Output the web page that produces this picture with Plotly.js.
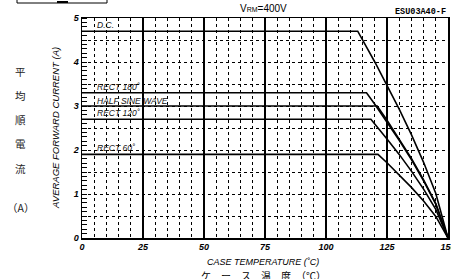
<!DOCTYPE html>
<html>
<head>
<meta charset="utf-8">
<script src="https://cdn.plot.ly/plotly-3.0.1.min.js"></script>
<style>html,body{margin:0;padding:0;background:#fff;}#chart{width:451px;height:279px;}</style>
</head>
<body>
<div id="chart"></div>
<script>
// ---- data ----
const seriesNames = ['D.C.', 'RECT 180˚', 'HALF SINE WAVE', 'RECT 120˚', 'RECT 60˚'];
const tempDC      = [0, 113, 120, 125, 130, 135, 140, 145, 150];
const currDC      = [4.7, 4.7, 4.0, 3.48, 2.93, 2.35, 1.72, 1.01, 0];
const tempR180    = [0, 116.6, 120, 125, 130, 135, 140, 145, 150];
const currR180    = [3.3, 3.3, 3.04, 2.64, 2.22, 1.78, 1.30, 0.77, 0];
const tempHalf    = [0, 121, 125, 130, 135, 140, 145, 150];
const currHalf    = [3.0, 3.0, 2.68, 2.25, 1.81, 1.32, 0.78, 0];
const tempR120    = [0, 118.4, 125, 130, 135, 140, 145, 150];
const currR120    = [2.7, 2.7, 2.25, 1.90, 1.52, 1.11, 0.65, 0];
const tempR60     = [0, 121.3, 125, 130, 135, 140, 145, 150];
const currR60     = [1.9, 1.9, 1.71, 1.44, 1.15, 0.84, 0.49, 0];
const labelY      = [4.83, 3.44, 3.11, 2.84, 2.04];
const yTickVals   = [0, 0.5, 1, 1.5, 2, 2.5, 3, 3.5, 4, 4.5, 5];
const yTickText   = ['0', '', '1', '', '2', '', '3', '', '4', '', '5'];
const yTitleJa    = ['平', '均', '順', '電', '流', '（A）'];
const xTitleJa    = 'ケ　ー　ス　温　度　（℃）';

const xs = [tempDC, tempR180, tempHalf, tempR120, tempR60];
const ys = [currDC, currR180, currHalf, currR120, currR60];

const traces = xs.map((x, i) => ({
  x: x, y: ys[i], type: 'scatter', mode: 'lines', name: seriesNames[i],
  line: {color: '#000', width: 1.6}, hoverinfo: 'skip'
}));
// invisible trace that carries the second x axis (major solid grid)
traces.push({x: [0, 150], y: [0, 0], xaxis: 'x2', yaxis: 'y', type: 'scatter', mode: 'lines',
  line: {color: 'rgba(0,0,0,0)', width: 0}, hoverinfo: 'skip', showlegend: false});

const L = 82, W = 366, T = 18, H = 220, B0 = T + H;
const px2x = p => (p - L) / W;
const py2y = p => (B0 - p) / H;

const tickFont = {family: 'Liberation Sans, Arial, sans-serif', size: 9, color: '#000', weight: 'bold', style: 'italic'};
const lblFont = {family: 'Liberation Sans, Arial, sans-serif', size: 8.5, color: '#111', style: 'italic'};

const annotations = seriesNames.map((n, i) => ({
  x: 5.5, y: labelY[i], xref: 'x', yref: 'y', text: n, showarrow: false,
  xanchor: 'left', yanchor: 'middle', font: lblFont
}));

annotations.push({
  xref: 'paper', yref: 'paper', x: px2x(448), y: py2y(12), xanchor: 'right', yanchor: 'middle',
  text: 'ESU03A40-F', showarrow: false,
  font: {family: 'Liberation Mono, DejaVu Sans Mono, monospace', size: 8.5, color: '#000', weight: 'bold'}
});
annotations.push({
  xref: 'paper', yref: 'paper', x: px2x(263), y: py2y(9), xanchor: 'center', yanchor: 'middle',
  text: 'V<span style="font-size:7px">RM</span>=400V', showarrow: false,
  font: {family: 'Liberation Sans, Arial, sans-serif', size: 10, color: '#000'}
});
annotations.push({
  xref: 'paper', yref: 'paper', x: px2x(263), y: py2y(262), xanchor: 'center', yanchor: 'middle',
  text: 'CASE TEMPERATURE (˚C)', showarrow: false,
  font: {family: 'Liberation Sans, Arial, sans-serif', size: 9, color: '#000', style: 'italic'}
});
annotations.push({
  xref: 'paper', yref: 'paper', x: px2x(263), y: py2y(266), xanchor: 'center', yanchor: 'top',
  text: xTitleJa, showarrow: false,
  font: {family: 'Noto Sans CJK JP, sans-serif', size: 10, color: '#000'}
});
annotations.push({
  xref: 'paper', yref: 'paper', x: px2x(55), y: py2y(128), xanchor: 'center', yanchor: 'middle',
  text: 'AVERAGE FORWARD CURRENT (A)', showarrow: false, textangle: -90,
  font: {family: 'Liberation Sans, Arial, sans-serif', size: 9.5, color: '#000', style: 'italic'}
});
const jaYpx = [71, 95, 119, 143, 168, 207];
yTitleJa.forEach((c, i) => {
  annotations.push({
    xref: 'paper', yref: 'paper', x: px2x(20), y: py2y(jaYpx[i]),
    xanchor: 'center', yanchor: 'middle', text: c, showarrow: false,
    font: {family: 'Noto Sans CJK JP, sans-serif', size: 10.5, color: '#222'}
  });
});

const layout = {
  width: 451, height: 279,
  margin: {l: L, r: 451 - L - W, t: T, b: 279 - B0, pad: 0},
  paper_bgcolor: '#fff', plot_bgcolor: '#fff',
  showlegend: false,
  xaxis: {
    range: [0, 150], tickmode: 'linear', tick0: 0, dtick: 25, ticks: '', showline: true, mirror: true,
    linecolor: '#000', linewidth: 1.5, showgrid: true, gridcolor: '#000', gridwidth: 1, griddash: 'dot',
    zeroline: false, tickfont: tickFont, fixedrange: true, ticklabeloverflow: 'allow',
    minor: {tickmode: 'linear', dtick: 5, tick0: 0, showgrid: true, gridcolor: '#000', gridwidth: 1, griddash: 'dot', ticks: ''}
  },
  xaxis2: {
    range: [0, 150], overlaying: 'x', tickmode: 'linear', tick0: 0, dtick: 25,
    showticklabels: false, ticks: '', showgrid: true, gridcolor: '#000', gridwidth: 1.6,
    zeroline: false, showline: false, fixedrange: true
  },
  yaxis: {
    range: [0, 5], tickmode: 'array', tickvals: yTickVals, ticktext: yTickText, ticks: '',
    showline: true, mirror: true, linecolor: '#000', linewidth: 1.5,
    showgrid: true, gridcolor: '#000', gridwidth: 1, griddash: 'dot',
    zeroline: false, tickfont: tickFont, fixedrange: true,
    minor: {tickmode: 'linear', dtick: 0.1, tick0: 0, ticks: 'inside', ticklen: 5, tickcolor: '#000', tickwidth: 1, showgrid: false}
  },
  shapes: [
    {type: 'rect', xref: 'paper', yref: 'paper', x0: px2x(17), x1: px2x(107),
     y0: py2y(3), y1: py2y(-6), line: {color: '#000', width: 1}},
    {type: 'line', xref: 'paper', yref: 'paper', x0: px2x(57), x1: px2x(68),
     y0: py2y(2), y1: py2y(2), line: {color: '#000', width: 2}}
  ],
  annotations: annotations
};

Plotly.newPlot('chart', traces, layout, {staticPlot: true, displayModeBar: false});
</script>
</body>
</html>
